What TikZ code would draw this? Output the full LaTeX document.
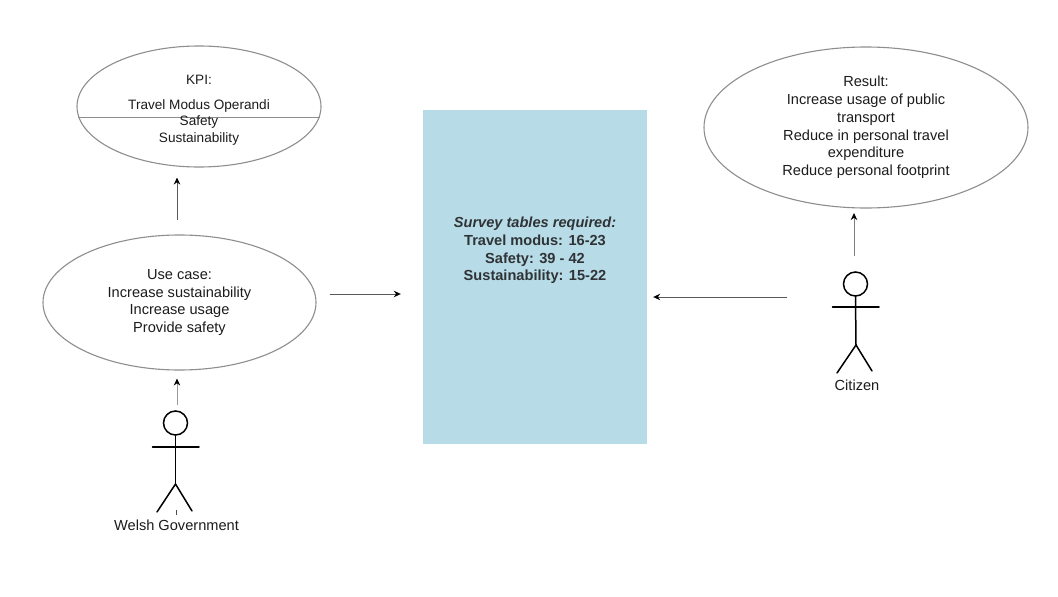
\documentclass[tikz,border=0pt]{standalone}
\usepackage{fontspec}
\setmainfont{Liberation Sans}
\usetikzlibrary{shapes.geometric,arrows.meta}
\definecolor{outlinegray}{HTML}{8E8E8E}
\definecolor{panelblue}{HTML}{B7DCE7}
\definecolor{textdark}{HTML}{1C1C1C}
\definecolor{paneltext}{HTML}{2F3336}
\tikzset{
  x=1pt,y=1pt,
  oval/.style={draw=outlinegray,line width=1.1pt,ellipse,inner sep=0pt,align=center,text=textdark,font=\fontsize{14.6}{17.8}\selectfont},
  arrowline/.style={-{Stealth[length=7pt,width=6.5pt,color=black]},line width=0.9pt,draw=#1},
  arrowline/.default={black!65},
  stickline/.style={line width=1.5pt,draw=black,line cap=round},
  sticklabel/.style={inner sep=0pt,text=textdark,font=\fontsize{14.6}{17.8}\selectfont},
  kpitext/.style={inner sep=0pt,align=center,text=textdark,font=\fontsize{13.6}{16.5}\selectfont},
}
\begin{document}
\begin{tikzpicture}
\path[use as bounding box,fill=white] (0,0) rectangle (1058,-597);

% survey panel
\node[fill=panelblue,minimum width=224pt,minimum height=334pt,inner sep=0pt,align=center,text=paneltext,
      font=\fontsize{14.6}{17.7}\selectfont\bfseries] (survey) at (535,-277) {};
\node[inner sep=0pt,align=center,text=paneltext,font=\fontsize{14.6}{17.7}\selectfont\bfseries] (surveytext) at (535,-250.5)
  {\textit{Survey tables required:}\\Travel modus: 16-23\\Safety: 39 - 42\\Sustainability: 15-22};

% KPI ellipse
\node[oval,minimum width=244pt,minimum height=121pt] (kpi) at (199,-106.5) {};
\draw[draw=outlinegray,line width=1.1pt] ([shift={(2,-11)}]kpi.west) -- ([shift={(-2,-11)}]kpi.east);
\node[kpitext] (kpititle) at (199,-80) {KPI:};
\node[kpitext] (kpibody) at (199,-122) {Travel Modus Operandi\\Safety\\Sustainability};

% use case ellipse
\node[oval,minimum width=273pt,minimum height=135pt] (usecase) at (179.5,-302.5)
  {Use case:\\Increase sustainability\\Increase usage\\Provide safety};

% result ellipse
\node[oval,minimum width=324pt,minimum height=161pt] (result) at (866,-127.5)
  {Result:\\Increase usage of public\\transport\\Reduce in personal travel\\expenditure\\Reduce personal footprint};

% Welsh Government actor
\node[circle,draw=black,line width=1.5pt,minimum size=24pt,inner sep=0pt] (govhead) at (175.5,-423) {};
\draw[stickline] (govhead.south) -- (175.5,-484) coordinate (govhip);
\draw[stickline] (152.5,-447) -- (199,-447);
\draw[stickline] (157,-512) -- (govhip) -- (192,-511);
\draw[line width=0.7pt,draw=black!70] (176.5,-510) -- (176.5,-515);
\node[sticklabel] (govlabel) at (176.5,-525) {Welsh Government};

% Citizen actor
\node[circle,draw=black,line width=1.5pt,minimum size=24pt,inner sep=0pt] (cithead) at (855.5,-284) {};
\draw[stickline] (cithead.south) -- (856,-345) coordinate (cithip);
\draw[stickline] (832.5,-307) -- (879,-307);
\draw[stickline] (837,-373) -- (cithip) -- (872,-371);
\node[sticklabel] (citlabel) at (857,-385) {Citizen};

% connectors
\draw[arrowline] ([shift={(-2.5,14)}]usecase.north) -- ([shift={(-22,-10)}]kpi.south);
\draw[arrowline] ([shift={(13,8.5)}]usecase.east) -- ([shift={(-22,-17)}]survey.west);
\draw[arrowline=black!40] ([shift={(1.5,5.5)}]govhead.north) -- ([shift={(-2.5,-8)}]usecase.south);
\draw[arrowline=black!50] ([shift={(-1.5,15.5)}]cithead.north) -- ([shift={(-12,-4.5)}]result.south);
\draw[arrowline] ([shift={(-55.5,-13)}]cithead.west) -- ([shift={(6,-20)}]survey.east);
\end{tikzpicture}
\end{document}
